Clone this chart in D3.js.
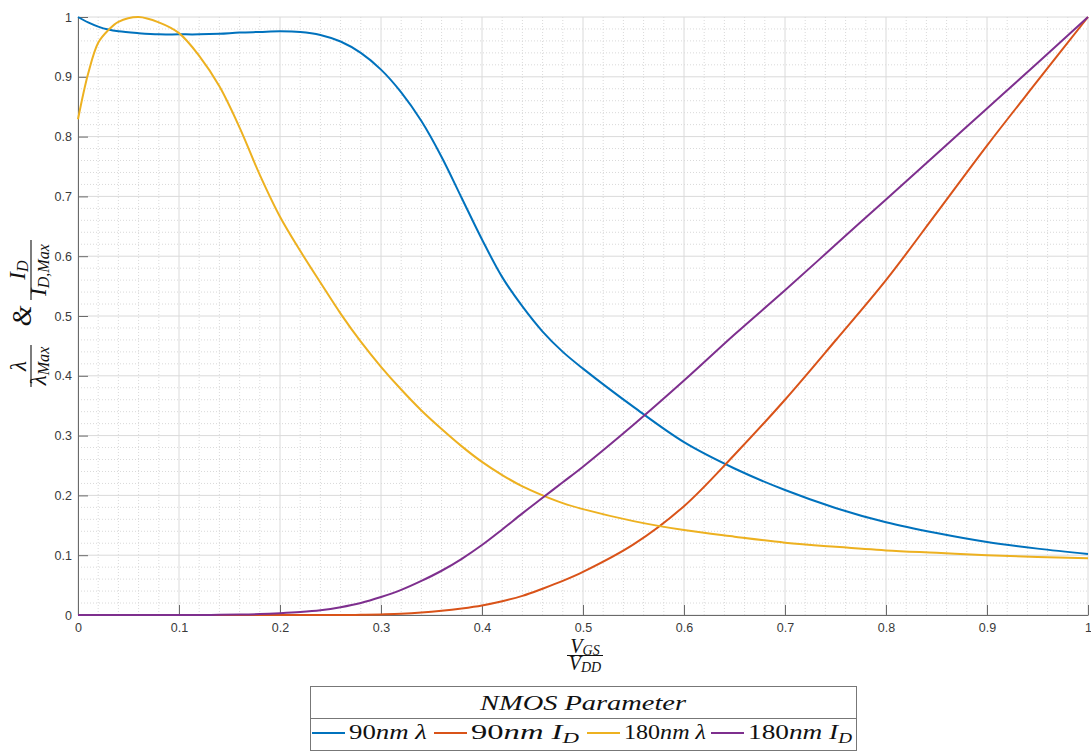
<!DOCTYPE html>
<html>
<head>
<meta charset="utf-8">
<script src="https://cdn.jsdelivr.net/npm/d3@7"></script>
<style>
  html, body { margin: 0; padding: 0; background: #ffffff; }
  svg { display: block; }
</style>
</head>
<body>
<svg id="chart" width="1091" height="752"></svg>
<script>
// Normalised gate voltage V_GS / V_DD (shared sample points)
const vgsRatio = [0, 0.01, 0.02, 0.03, 0.04, 0.06, 0.08, 0.10, 0.12, 0.14, 0.16, 0.18, 0.20,
  0.22, 0.24, 0.26, 0.28, 0.30, 0.32, 0.34, 0.36, 0.38, 0.40, 0.42, 0.44, 0.46, 0.48, 0.50,
  0.55, 0.60, 0.65, 0.70, 0.75, 0.80, 0.85, 0.90, 0.95, 1.00];

// 90nm: normalised lambda and drain current
const lambda90 = [1.000, 0.991, 0.984, 0.979, 0.976, 0.973, 0.971, 0.971, 0.971, 0.972, 0.974, 0.975, 0.976,
  0.975, 0.970, 0.959, 0.940, 0.912, 0.874, 0.826, 0.766, 0.697, 0.628, 0.565, 0.516, 0.474, 0.440, 0.412,
  0.348, 0.289, 0.245, 0.209, 0.179, 0.155, 0.137, 0.122, 0.111, 0.102];
const id90 = [0, 0, 0, 0, 0, 0, 0, 0, 0, 0, 0, 0, 0,
  0, 0, 0, 0.0003, 0.001, 0.002, 0.004, 0.007, 0.011, 0.016, 0.023, 0.032, 0.044, 0.057, 0.072,
  0.118, 0.182, 0.268, 0.360, 0.459, 0.560, 0.672, 0.785, 0.893, 1.000];

// 180nm: normalised lambda and drain current
const lambda180 = [0.829, 0.905, 0.957, 0.978, 0.992, 1.000, 0.991, 0.973, 0.935, 0.884, 0.815, 0.736, 0.666,
  0.609, 0.556, 0.504, 0.457, 0.415, 0.377, 0.342, 0.311, 0.282, 0.256, 0.234, 0.215, 0.200, 0.187, 0.177,
  0.157, 0.142, 0.131, 0.121, 0.114, 0.108, 0.104, 0.100, 0.097, 0.095];
const id180 = [0, 0, 0, 0, 0, 0, 0, 0, 0, 0.0003, 0.0007, 0.0015, 0.003,
  0.005, 0.008, 0.013, 0.020, 0.030, 0.042, 0.057, 0.074, 0.094, 0.117, 0.143, 0.170, 0.196, 0.222, 0.248,
  0.318, 0.392, 0.469, 0.543, 0.619, 0.695, 0.771, 0.847, 0.923, 1.000];

const seriesLabels = ["90nm λ", "90nm I_D", "180nm λ", "180nm I_D"];
const legendTitle = "NMOS Parameter";

const xTicks = [0, 0.1, 0.2, 0.3, 0.4, 0.5, 0.6, 0.7, 0.8, 0.9, 1];
const xTickLabels = ["0", "0.1", "0.2", "0.3", "0.4", "0.5", "0.6", "0.7", "0.8", "0.9", "1"];
const yTicks = [0, 0.1, 0.2, 0.3, 0.4, 0.5, 0.6, 0.7, 0.8, 0.9, 1];
const yTickLabels = ["0", "0.1", "0.2", "0.3", "0.4", "0.5", "0.6", "0.7", "0.8", "0.9", "1"];

// ---- drawing ----
const seriesValues = [lambda90, id90, lambda180, id180];
const seriesColors = ["#0072BD", "#D95319", "#EDB120", "#7E2F8E"];
const SANS = "'Liberation Sans', Arial, Helvetica, sans-serif";
const SERIF = "'Liberation Serif', 'Times New Roman', serif";

const svg = d3.select("#chart");
const plot = { left: 78, right: 1088, top: 17, bottom: 615 };

const x = d3.scaleLinear().domain([0, 1]).range([plot.left, plot.right]);
const y = d3.scaleLinear().domain([0, 1]).range([plot.bottom, plot.top]);

// minor grid (every 0.02) as dotted lines
const minor = d3.range(0, 51).filter(i => i % 5 !== 0).map(i => i / 50);
const grid = svg.append("g").attr("class", "grid");
grid.selectAll("line.mx").data(minor).join("line")
  .attr("x1", d => x(d)).attr("x2", d => x(d))
  .attr("y1", plot.top).attr("y2", plot.bottom)
  .attr("stroke", "#d9d9d9").attr("stroke-width", 1).attr("stroke-dasharray", "1,2");
grid.selectAll("line.my").data(minor).join("line")
  .attr("y1", d => y(d)).attr("y2", d => y(d))
  .attr("x1", plot.left).attr("x2", plot.right)
  .attr("stroke", "#d9d9d9").attr("stroke-width", 1).attr("stroke-dasharray", "1,2");

// major grid
svg.append("g").selectAll("line").data(xTicks).join("line")
  .attr("x1", d => x(d)).attr("x2", d => x(d))
  .attr("y1", plot.top).attr("y2", plot.bottom)
  .attr("stroke", "#dadada").attr("stroke-width", 1);
svg.append("g").selectAll("line").data(yTicks).join("line")
  .attr("y1", d => y(d)).attr("y2", d => y(d))
  .attr("x1", plot.left).attr("x2", plot.right)
  .attr("stroke", "#dadada").attr("stroke-width", 1);

// axes with inward ticks
const xAxis = d3.axisBottom(x).tickValues(xTicks)
  .tickFormat((d, i) => xTickLabels[i]).tickSize(-10).tickSizeOuter(0).tickPadding(8);
const yAxis = d3.axisLeft(y).tickValues(yTicks)
  .tickFormat((d, i) => yTickLabels[i]).tickSize(-10).tickSizeOuter(0).tickPadding(6);

function styleAxis(g) {
  g.select(".domain").attr("stroke", "#6a6a6a").attr("stroke-width", 1);
  g.selectAll(".tick line").attr("stroke", "#6a6a6a").attr("stroke-width", 1);
  g.selectAll(".tick text").attr("fill", "#3a3a3a").attr("font-size", 12.5).attr("font-family", SANS);
  g.attr("font-family", SANS);
}
svg.append("g").attr("transform", `translate(0,${plot.bottom})`).call(xAxis).call(styleAxis);
svg.append("g").attr("transform", `translate(${plot.left},0)`).call(yAxis).call(styleAxis);

// curves
const line = d3.line()
  .x((d, i) => x(vgsRatio[i]))
  .y(d => y(d))
  .curve(d3.curveCatmullRom.alpha(0.5));

svg.append("g").selectAll("path").data(seriesValues).join("path")
  .attr("d", d => line(d))
  .attr("fill", "none")
  .attr("stroke", (d, i) => seriesColors[i])
  .attr("stroke-width", 2)
  .attr("stroke-linejoin", "round");

// simple math-style text: digits upright, letters italic, _x / _{..} subscripts
function mathText(textSel, str, size, dropRatio) {
  const re = /_\{([^}]*)\}|_(.)|(\d+)|([^\d_]+)/g;
  let m, shift = 0;
  const drop = size * (dropRatio === undefined ? 0.2 : dropRatio);
  while ((m = re.exec(str)) !== null) {
    const ts = textSel.append("tspan");
    if (m[1] !== undefined || m[2] !== undefined) {
      ts.text(m[1] !== undefined ? m[1] : m[2])
        .attr("font-size", size * 0.7).attr("font-style", "italic")
        .attr("dy", drop - shift);
      shift = drop;
    } else {
      ts.text(m[3] !== undefined ? m[3] : m[4])
        .attr("font-size", size)
        .attr("font-style", m[3] !== undefined ? "normal" : "italic")
        .attr("dy", -shift);
      shift = 0;
    }
  }
  return textSel;
}

function fraction(g, cx, barHalf, num, den, size, numBase, denBase, drop) {
  g.append("line").attr("x1", cx - barHalf).attr("x2", cx + barHalf)
    .attr("y1", 0).attr("y2", 0).attr("stroke", "#111").attr("stroke-width", 1.1);
  mathText(g.append("text").attr("x", cx).attr("y", numBase).attr("text-anchor", "middle")
    .attr("font-family", SERIF).attr("fill", "#111"), num, size, drop);
  mathText(g.append("text").attr("x", cx).attr("y", denBase).attr("text-anchor", "middle")
    .attr("font-family", SERIF).attr("fill", "#111"), den, size, drop);
}

// y-axis label (rotated)
const yLab = svg.append("g").attr("transform", "translate(31,0) rotate(-90)");
fraction(yLab, -366, 21, "λ", "λ_{Max}", 23, -5, 15, 0.15);
yLab.append("text").attr("x", -316).attr("y", 0).attr("text-anchor", "middle")
  .attr("font-family", SERIF).attr("font-style", "italic")
  .attr("font-size", 27).attr("fill", "#111").text("&");
fraction(yLab, -270, 30, "I_D", "I_{D,Max}", 23, -6, 15, 0.15);

// x-axis label
const xLab = svg.append("g").attr("transform", "translate(585,655.5)");
fraction(xLab, 0, 18, "V_{GS}", "V_{DD}", 20, -3, 14.5, 0.1);

// legend
const legend = svg.append("g");
legend.append("rect").attr("x", 310.5).attr("y", 686.5).attr("width", 546).attr("height", 64)
  .attr("fill", "#fff").attr("stroke", "#777").attr("stroke-width", 1);
legend.append("line").attr("x1", 310.5).attr("x2", 856.5).attr("y1", 718.5).attr("y2", 718.5)
  .attr("stroke", "#777").attr("stroke-width", 1);
mathText(legend.append("text").attr("x", 480).attr("y", 710)
  .attr("font-family", SERIF).attr("fill", "#111")
  .attr("textLength", 206).attr("lengthAdjust", "spacingAndGlyphs"), legendTitle, 21);

const entryStart = [312, 434, 587, 711];
const entryTextWidth = [78, 108, 82, 104];
seriesLabels.forEach((lab, i) => {
  const x0 = entryStart[i];
  legend.append("line").attr("x1", x0).attr("x2", x0 + 33).attr("y1", 733).attr("y2", 733)
    .attr("stroke", seriesColors[i]).attr("stroke-width", 2);
  mathText(legend.append("text").attr("x", x0 + 37).attr("y", 739)
    .attr("font-family", SERIF).attr("fill", "#111")
    .attr("textLength", entryTextWidth[i]).attr("lengthAdjust", "spacingAndGlyphs"), lab, 21, 0.18);
});
</script>
</body>
</html>
